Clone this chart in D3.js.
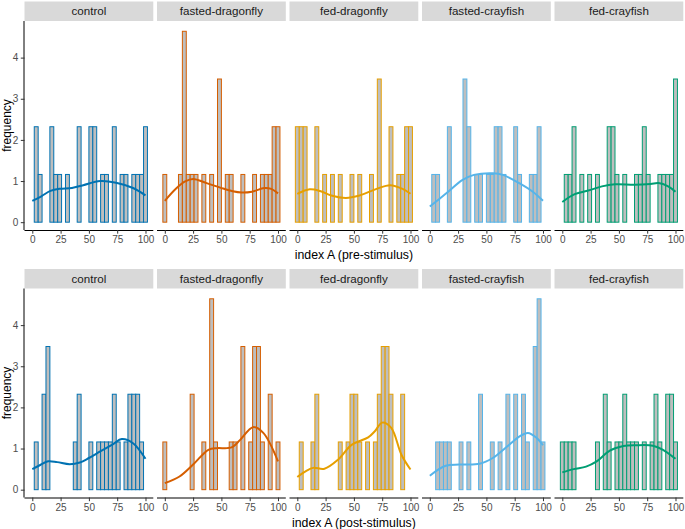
<!DOCTYPE html>
<html><head><meta charset="utf-8">
<script src="https://cdn.jsdelivr.net/npm/d3@7"></script>
<style>
body{margin:0;background:#fff;}
svg{display:block;font-family:"Liberation Sans",Arial,sans-serif;}
</style>
</head><body>
<svg id="chart" width="685" height="529"></svg>
<script>
// ---------------- data ----------------
const groups = ["control","fasted-dragonfly","fed-dragonfly","fasted-crayfish","fed-crayfish"];
const groupColors = ["#0072B2","#D55E00","#E69F00","#56B4E9","#009E73"];
const rowTitles = ["index A (pre-stimulus)","index A (post-stimulus)"];
const yTitle = "frequency";
const xTicks = [0,25,50,75,100];
const yTicks = [0,1,2,3,4];
const nBins = 30;      // bins from 0 to 100 (centres)
const nObs = 25;       // observations per panel

// bin counts (30 bins) – pre-stimulus
const preControl   = [0,2,1,0,0,2,1,1,0,1,0,0,2,0,0,2,2,0,1,1,0,2,0,1,1,0,1,1,1,2];
const preFastedDf  = [1,0,0,0,1,4,1,1,1,0,1,0,1,0,3,0,1,1,0,0,1,0,0,1,0,1,1,1,2,2];
const preFedDf     = [2,2,2,0,0,2,0,1,0,1,0,1,0,0,1,0,1,0,0,1,0,3,0,0,2,0,1,1,2,2];
const preFastedCf  = [0,1,1,0,0,2,0,0,0,3,2,0,1,1,0,1,1,2,2,1,0,0,2,1,0,0,1,1,2,0];
const preFedCf     = [0,1,1,2,0,1,0,1,0,1,0,0,2,2,1,0,1,0,0,1,1,2,1,0,0,1,1,1,1,3];
// bin counts – post-stimulus
const postControl  = [0,1,0,2,3,0,0,0,0,0,0,1,2,0,0,1,0,1,1,1,1,2,1,0,1,2,2,2,1,0];
const postFastedDf = [1,0,0,0,0,0,0,2,0,0,1,0,4,1,0,0,0,1,1,0,3,0,1,3,3,1,0,2,0,1];
const postFedDf    = [0,1,0,0,1,2,0,0,0,0,0,1,0,1,2,2,1,0,1,0,1,2,3,3,2,0,0,2,0,0];
const postFastedCf = [0,0,1,1,1,1,0,0,1,0,1,0,0,2,0,0,1,0,1,0,2,0,2,0,2,1,0,3,4,1];
const postFedCf    = [1,1,1,1,0,0,0,0,0,1,0,2,1,0,1,1,2,1,1,1,0,1,0,1,2,1,0,2,2,1];

// smoothed density curves [index, frequency] – pre-stimulus
const preControlLine   = [[0,0.52],[8,0.63],[16,0.76],[24,0.81],[35,0.83],[45,0.9],[60,1.0],[74,0.96],[89,0.83],[100,0.65]];
const preFastedDfLine  = [[0,0.52],[10,0.82],[18,0.99],[25,1.05],[37,0.95],[49,0.84],[60,0.75],[68,0.72],[77,0.74],[88,0.83],[94,0.81],[100,0.7]];
const preFedDfLine     = [[0,0.69],[11,0.8],[20,0.76],[30,0.65],[43,0.59],[55,0.65],[70,0.81],[82,0.9],[93,0.81],[100,0.69]];
const preFastedCfLine  = [[0,0.38],[14,0.69],[29,1.03],[39,1.15],[56,1.19],[64.5,1.15],[79,0.95],[91,0.74],[100,0.52]];
const preFedCfLine     = [[0,0.49],[11,0.68],[23,0.77],[35,0.87],[46.5,0.92],[64,0.91],[78,0.93],[85,0.95],[93.5,0.87],[100,0.74]];
// smoothed density curves – post-stimulus
const postControlLine  = [[0,0.5],[7,0.6],[14,0.69],[22,0.67],[33,0.62],[42,0.66],[50,0.77],[60,0.93],[71.5,1.11],[79,1.23],[89,1.13],[100,0.75]];
const postFastedDfLine = [[0,0.16],[13,0.32],[25,0.61],[38.5,0.97],[46,1.01],[55,1.01],[60,1.04],[66.6,1.21],[78,1.52],[87,1.38],[100,0.69]];
const postFedDfLine    = [[0,0.31],[8,0.46],[14,0.53],[24,0.51],[36,0.73],[48,1.09],[62.6,1.27],[68.5,1.42],[75,1.63],[83,1.5],[92,0.85],[100,0.49]];
const postFastedCfLine = [[0,0.34],[14,0.58],[26,0.61],[44,0.63],[55.6,0.77],[67.5,1.03],[79,1.29],[86.7,1.38],[94,1.27],[100,1.08]];
const postFedCfLine    = [[0,0.42],[10,0.5],[21,0.56],[30,0.68],[42,0.95],[54,1.06],[65,1.08],[80,1.07],[89,0.97],[100,0.75]];

const rowCounts = [
  [preControl, preFastedDf, preFedDf, preFastedCf, preFedCf],
  [postControl, postFastedDf, postFedDf, postFastedCf, postFedCf]
];
const rowLines = [
  [preControlLine, preFastedDfLine, preFedDfLine, preFastedCfLine, preFedCfLine],
  [postControlLine, postFastedDfLine, postFedDfLine, postFastedCfLine, postFedCfLine]
];

// ---------------- layout ----------------
const svg = d3.select("#chart");
const panelLeft = 24.5, panelW = 128.8, panelGap = 3.7;
const rowTop = [21, 288.5], panelH = 209, stripH = 19.5;
const binWidth = 100 / (nBins - 1);

const x = d3.scaleLinear().domain([-6.9, 106.9]).range([0, panelW]);
const y = d3.scaleLinear().domain([-0.19, 4.89]).range([panelH, 0]);

const line = d3.line().x(d => x(d[0])).y(d => y(d[1])).curve(d3.curveCatmullRom.alpha(0.5));
const tickFont = "'Liberation Sans',Arial,sans-serif";

rowCounts.forEach((countsRow, r) => {
  countsRow.forEach((counts, c) => {
    const gx = panelLeft + c * (panelW + panelGap);
    const g = svg.append("g").attr("transform", `translate(${gx},${rowTop[r]})`);
    const col = groupColors[c];

    // strip
    g.append("rect").attr("x", 0).attr("y", -stripH).attr("width", panelW).attr("height", stripH)
      .attr("fill", "#D9D9D9");
    g.append("text").attr("x", panelW / 2).attr("y", -stripH / 2).attr("dy", "0.35em")
      .attr("text-anchor", "middle").attr("font-size", 11.6).attr("fill", "#1A1A1A")
      .text(groups[c]);

    // bars
    const bins = counts.map((n, k) => ({ center: k * binWidth, freq: n / (nObs * binWidth) * 100 }));
    g.selectAll("rect.bar").data(bins).enter().append("rect").attr("class", "bar")
      .attr("x", d => x(d.center - binWidth / 2))
      .attr("width", d => x(d.center + binWidth / 2) - x(d.center - binWidth / 2))
      .attr("y", d => y(d.freq))
      .attr("height", d => y(0) - y(d.freq))
      .attr("fill", "#BEBEBE").attr("stroke", col).attr("stroke-width", 1);

    // density curve
    g.append("path").datum(rowLines[r][c]).attr("d", line)
      .attr("fill", "none").attr("stroke", col).attr("stroke-width", 2);

    // x axis
    const xa = g.append("g").attr("transform", `translate(0,${panelH})`)
      .call(d3.axisBottom(x).tickValues(xTicks).tickFormat(d3.format("d")).tickSize(3.7).tickPadding(2.5))
      .attr("font-family", tickFont).attr("font-size", 10);
    xa.select(".domain").attr("stroke", "#000").attr("stroke-width", 1).attr("d", `M0,0.5H${panelW}`);
    xa.selectAll(".tick line").attr("stroke", "#333333");
    xa.selectAll(".tick text").attr("fill", "#4D4D4D");

    // y axis (first column only)
    if (c === 0) {
      const ya = g.append("g")
        .call(d3.axisLeft(y).tickValues(yTicks).tickFormat(d3.format("d")).tickSize(3.7).tickPadding(2.5))
        .attr("font-family", tickFont).attr("font-size", 10);
      ya.select(".domain").attr("stroke", "#000").attr("stroke-width", 1).attr("d", `M-0.5,0V${panelH}`);
      ya.selectAll(".tick line").attr("stroke", "#333333");
      ya.selectAll(".tick text").attr("fill", "#4D4D4D");
      svg.append("text")
        .attr("transform", `translate(10.5,${rowTop[r] + panelH / 2}) rotate(-90)`)
        .attr("text-anchor", "middle").attr("font-size", 12).attr("fill", "#000")
        .text(yTitle);
    }
  });
  // x title
  const totalW = 5 * panelW + 4 * panelGap;
  svg.append("text").attr("x", panelLeft + totalW / 2).attr("y", rowTop[r] + panelH + 29)
    .attr("text-anchor", "middle").attr("font-size", 12.3).attr("fill", "#000")
    .text(rowTitles[r]);
});
</script>
</body></html>
